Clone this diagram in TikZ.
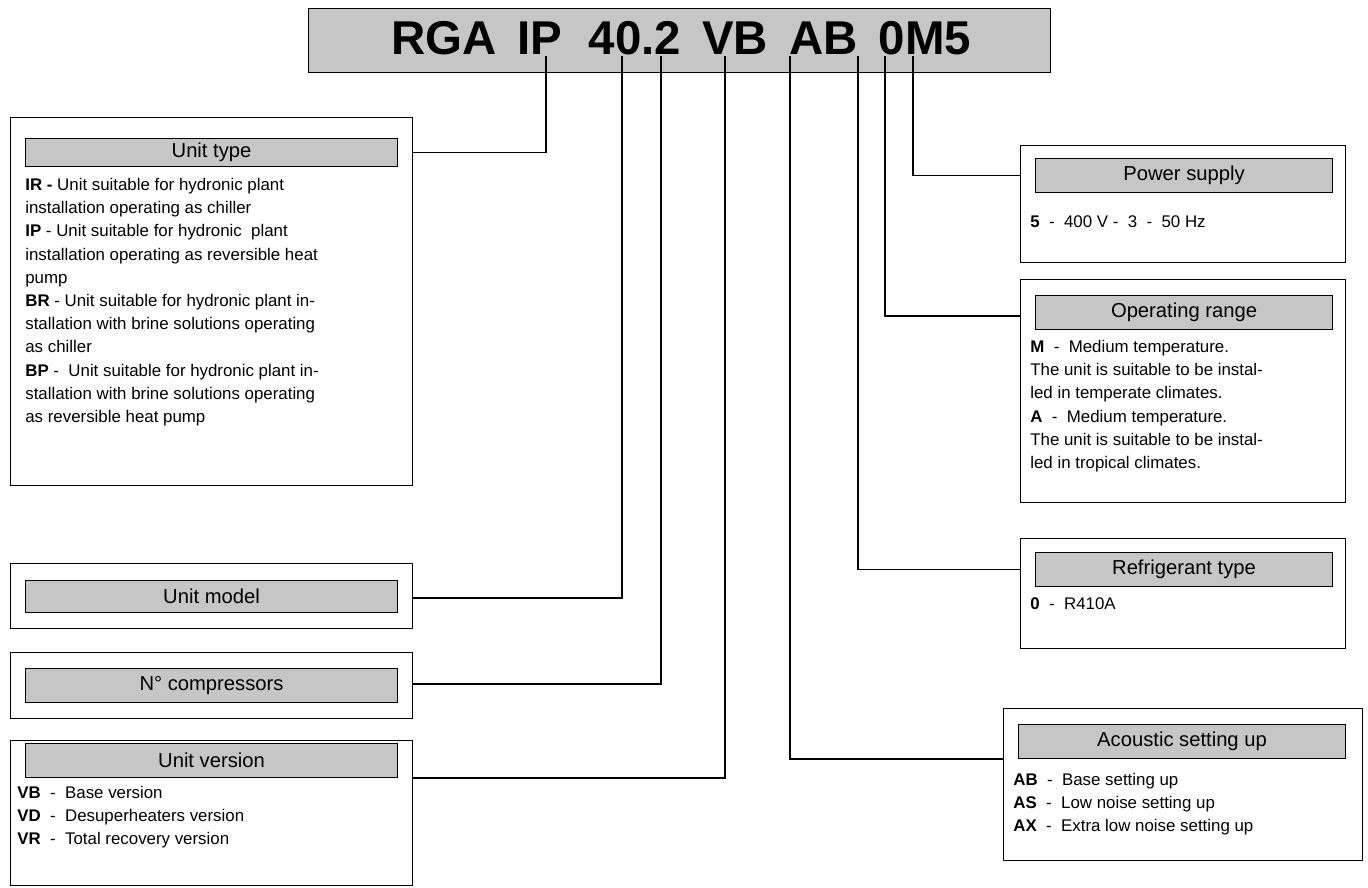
\documentclass[tikz,border=0pt]{standalone}
\usepackage{fontspec}
\setmainfont{Liberation Sans}
\usetikzlibrary{positioning}
\tikzset{
	box/.style = {rectangle, draw=black, line width=0.6pt, anchor=north west, inner sep=0pt},
	head/.style = {rectangle, draw=black, fill=gray!45, line width=0.6pt, anchor=north west, inner sep=0pt, font=\fontsize{11.5}{13}\selectfont},
	body/.style = {anchor=north west, inner sep=0pt, align=left, font=\fontsize{9.6}{13.2}\selectfont},
	link/.style = {line width=0.8pt},
	hd/.style 2 args = {minimum width=#1*0.02cm, minimum height=#2*0.02cm}
}
\begin{document}
\begin{tikzpicture}[x=0.02cm, y=-0.02cm]
\useasboundingbox (0,0) rectangle (1368,887);
% code bar
\node (bar) [box, fill=gray!45, hd={742}{64}] at (308,8) {};
\node (code) at (681,38) {\fontsize{27}{30}\selectfont\bfseries RGA\ \,IP\ \ 40.2\ \,VB\ \,AB\ \,0M5};
\foreach \n/\x in {cIP/546, cMod/622, cComp/661, cVer/725, cAc/790, cRef/858, cRng/885, cPow/913}
	\coordinate (\n) at (\x,56);

% left side
\node (typeBox) [box, hd={402}{368}] at (10,117) {};
\node (typeHead) [head, hd={372}{28}] at (25,138) {Unit type};
\node (typeText) [body] at (25,178) {\textbf{IR -} Unit suitable for hydronic plant\\installation operating as chiller\\\textbf{IP} - Unit suitable for hydronic\ \ plant\\installation operating as reversible heat\\pump\\\textbf{BR} - Unit suitable for hydronic plant in-\\stallation with brine solutions operating\\as chiller\\\textbf{BP} -\ \ Unit suitable for hydronic plant in-\\stallation with brine solutions operating\\as reversible heat pump};

\node (modBox) [box, hd={402}{65}] at (10,563) {};
\node (modHead) [head, hd={372}{32}] at (25,580) {Unit model};

\node (compBox) [box, hd={402}{66}] at (10,652) {};
\node (compHead) [head, hd={372}{34}] at (25,668) {N° compressors};

\node (verBox) [box, hd={402}{145}] at (10,740) {};
\node (verHead) [head, hd={372}{34}] at (25,743) {Unit version};
\node (verText) [body] at (17,786) {\textbf{VB}\ \ -\ \ Base version\\\textbf{VD}\ \ -\ \ Desuperheaters version\\\textbf{VR}\ \ -\ \ Total recovery version};

% right side
\node (powBox) [box, hd={325}{117}] at (1020,145) {};
\node (powHead) [head, hd={297}{34}] at (1035,158) {Power supply};
\node (powText) [body] at (1030,215) {\textbf{5}\ \ -\ \ 400 V -\ \ 3\ \ -\ \ 50 Hz};

\node (rngBox) [box, hd={325}{223}] at (1020,279) {};
\node (rngHead) [head, hd={297}{34}] at (1035,295) {Operating range};
\node (rngText) [body] at (1030,340) {\textbf{M}\ \ -\ \ Medium temperature.\\The unit is suitable to be instal-\\led in temperate climates.\\\textbf{A}\ \ -\ \ Medium temperature.\\The unit is suitable to be instal-\\led in tropical climates.};

\node (refBox) [box, hd={325}{110}] at (1020,538) {};
\node (refHead) [head, hd={297}{34}] at (1035,552) {Refrigerant type};
\node (refText) [body] at (1030,597) {\textbf{0}\ \ -\ \ R410A};

\node (acBox) [box, hd={359}{152}] at (1003,708) {};
\node (acHead) [head, hd={327}{34}] at (1018,724) {Acoustic setting up};
\node (acText) [body] at (1013,773) {\textbf{AB}\ \ -\ \ Base setting up\\\textbf{AS}\ \ -\ \ Low noise setting up\\\textbf{AX}\ \ -\ \ Extra low noise setting up};

% connectors
\draw [link] (typeBox.east |- typeHead.east) -| (cIP);
\draw [link] (modBox.east |- 0,598) -| (cMod);
\draw [link] (compBox.east |- 0,684) -| (cComp);
\draw [link] (verBox.east |- verHead.south) -| (cVer);
\draw [link] (powBox.west |- powHead.east) -| (cPow);
\draw [link] (rngBox.west |- 0,316) -| (cRng);
\draw [link] (refBox.west |- refHead.east) -| (cRef);
\draw [link] (acBox.west |- acHead.south) -| (cAc);
\end{tikzpicture}
\end{document}
